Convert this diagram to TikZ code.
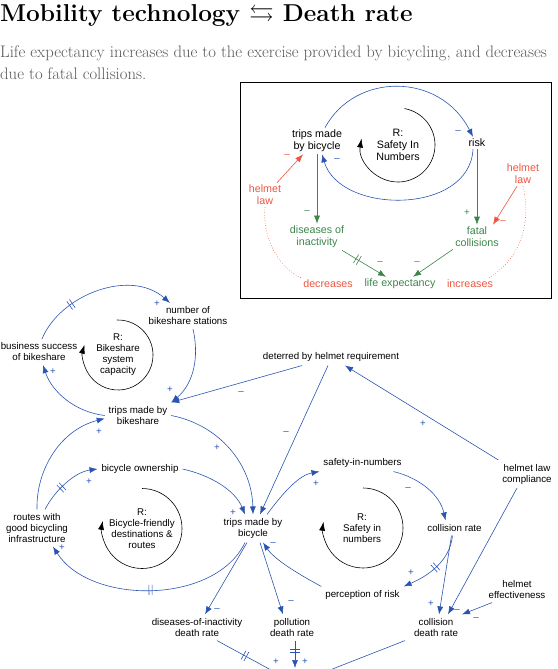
\documentclass[tikz,border=0pt]{standalone}
\usepackage{amssymb}
\usepackage{fontspec}
\newfontfamily\cldfont[Ligatures=TeX]{Liberation Sans}
\usetikzlibrary{arrows.meta, decorations.markings}
\definecolor{cldblue}{RGB}{42,84,178}
\definecolor{cldgreen}{RGB}{60,134,74}
\definecolor{cldred}{RGB}{238,84,64}

\begin{document}
\begin{tikzpicture}[
  x=1pt, y=-1pt,
  var/.style={font=\cldfont\fontsize{9.75}{11}\selectfont, align=center, inner sep=3pt, outer sep=1pt},
  ivar/.style={font=\cldfont\fontsize{10.7}{12.3}\selectfont, align=center, inner sep=2pt},
  sgn/.style={font=\cldfont\fontsize{9.75}{11}\selectfont, inner sep=0pt},
  lnk/.style={cldblue, line width=0.6pt, -{Latex[length=8pt, width=6pt]}},
  loopr/.style={black, line width=0.6pt, -{Latex[length=9pt, width=6pt]}},
  delay/.style={postaction={decorate, decoration={markings, mark=at position #1 with
    {\draw[-, line width=0.6pt] (-1.6pt,-5pt) -- (-1.6pt,5pt) (1.6pt,-5pt) -- (1.6pt,5pt);}}}}
]
\useasboundingbox (0,0) rectangle (557,669);
\node[anchor=base west, inner sep=0pt, font=\fontsize{24.4}{30}\selectfont\bfseries] (title) at (0,22)
  {Mobility technology $\leftrightarrows$ Death rate};
\node[anchor=base west, inner sep=0pt, font=\fontsize{16.7}{22}\selectfont, text=black!65] (sub1) at (0,57)
  {Life expectancy increases due to the exercise provided by bicycling, and decreases};
\node[anchor=base west, inner sep=0pt, font=\fontsize{16.7}{22}\selectfont, text=black!65] (sub2) at (0,79)
  {due to fatal collisions.};

% inset: safety in numbers
\draw[line width=0.8pt] (240,82) rectangle (551,298);
\node[ivar] (itr) at (317,141) {trips made\\by bicycle};
\node[ivar] (isn) at (398,145) {R:\\Safety In\\Numbers};
\node[ivar] (irk) at (477,143) {risk};
\node[ivar, text=cldred] (ihl) at (265,195) {helmet\\law};
\node[ivar, text=cldred] (ihr) at (523,174) {helmet\\law};
\node[ivar, text=cldgreen] (idi) at (317,237) {diseases of\\inactivity};
\node[ivar, text=cldgreen] (ifc) at (477,237) {fatal\\collisions};
\node[ivar, text=cldred] (ide) at (328,284) {decreases};
\node[ivar, text=cldgreen] (ile) at (400,284) {life expectancy};
\node[ivar, text=cldred] (iin) at (470,284) {increases};

\draw[lnk] ([xshift=8pt]itr.north) .. controls (355,72) and (440,72) .. ([xshift=-4pt]irk.north);
\draw[lnk] ([xshift=-4pt]irk.south) .. controls (470,215) and (340,215) .. ([xshift=5pt]itr.south);
\draw[loopr] (isn.center) ++(-80:37) arc[start angle=-80, end angle=190, radius=37];
\draw[lnk, cldgreen] (itr.south) -- (idi.north);
\draw[lnk, cldgreen] (irk.south) -- (ifc.north);
\draw[lnk, cldgreen, delay=0.35] ([xshift=25pt]idi.south) -- ([xshift=-14pt]ile.north);
\draw[lnk, cldgreen] ([xshift=-24pt]ifc.south) -- ([xshift=13pt]ile.north);
\draw[lnk, cldred] ([xshift=12pt]ihl.north) -- ([xshift=-14pt]itr.south);
\draw[lnk, cldred] ([xshift=-6pt]ihr.south) -- ([xshift=16pt]ifc.north);
\draw[cldred, dotted, line width=0.6pt] (ihl.south) .. controls (262,240) and (280,268) .. (ide.north west);
\draw[cldred, dotted, line width=0.6pt] (ihr.south) .. controls (533,230) and (515,262) .. ([xshift=-6pt]iin.north east);
\foreach \n/\x/\y/\sg in {a/458/132/--, b/337/160/--}
  \node[sgn, text=cldblue] (is\n) at (\x,\y) {\sg};
\foreach \n/\x/\y/\sg in {c/307/212/--, d/467/213/+, e/380/263/--, f/417/263/--}
  \node[sgn, text=cldgreen] (is\n) at (\x,\y) {\sg};
\foreach \n/\x/\y/\sg in {g/287/156/--, h/503/222/--}
  \node[sgn, text=cldred] (is\n) at (\x,\y) {\sg};

% main diagram
\node[var] (bss) at (39,352) {business success\\of bikeshare};
\node[var] (nbs) at (188,316) {number of\\bikeshare stations};
\node[var] (rbs) at (118,355) {R:\\Bikeshare\\system\\capacity};
\node[var] (tbs) at (138,415.5) {trips made by\\bikeshare};
\node[var] (dhr) at (331,357) {deterred by helmet requirement};
\node[var] (hlc) at (527,474) {helmet law\\compliance};
\node[var] (own) at (140,469) {bicycle ownership};
\node[var] (rts) at (37,528) {routes with\\good bicycling\\infrastructure};
\node[var] (rbf) at (142,528.5) {R:\\Bicycle-friendly\\destinations \&\\routes};
\node[var] (tbb) at (253,528.5) {trips made by\\bicycle};
\node[var] (sin) at (362.5,463) {safety-in-numbers};
\node[var] (rsn) at (362,528) {R:\\Safety in\\numbers};
\node[var] (clr) at (454.5,528) {collision rate};
\node[var] (per) at (362.5,595) {perception of risk};
\node[var] (eff) at (517,589.5) {helmet\\effectiveness};
\node[var] (cdr) at (436,627.5) {collision\\death rate};
\node[var] (did) at (197,627.5) {diseases-of-inactivity\\death rate};
\node[var] (pdr) at (292,627.5) {pollution\\death rate};
\coordinate (totw) at (282,676);
\coordinate (totn) at (295,668);
\coordinate (tote) at (312,677);

\draw[loopr] (rbs.center) ++(-92:35) arc[start angle=-92, end angle=197, radius=35];
\draw[loopr] (rbf.center) ++(-90:40) arc[start angle=-90, end angle=191, radius=40];
\draw[loopr] ([xshift=1pt]rsn.center) ++(-90:40) arc[start angle=-90, end angle=189, radius=40];

\draw[lnk, delay=0.3] ([xshift=3pt]bss.north) .. controls (60,295) and (130,268) .. ([xshift=-18pt]nbs.north);
\draw[lnk] ([xshift=5pt]nbs.south) .. controls (200,360) and (192,385) .. (tbs.north east);
\draw[lnk] (tbs.west) .. controls (75,412) and (52,392) .. ([xshift=4pt]bss.south);
\draw[lnk] (rts.north) .. controls (36,470) and (60,430) .. ([yshift=-3pt]tbs.west);
\draw[lnk] ([xshift=-29pt]dhr.south) -- (tbs.north east);
\draw[lnk] ([xshift=-3pt]dhr.south) -- ([xshift=7pt]tbb.north);
\draw[lnk] (hlc.north west) -- ([xshift=14pt]dhr.south);
\draw[lnk] ([xshift=-10pt]hlc.south) -- ([xshift=12pt]cdr.north);
\draw[lnk] (tbs.east) .. controls (220,425) and (252,465) .. (tbb.north);
\draw[lnk] (own.east) .. controls (210,475) and (235,490) .. ([xshift=-8pt]tbb.north);
\draw[lnk, delay=0.4] ([xshift=8pt]rts.north) .. controls (55,490) and (75,472) .. (own.west);
\draw[lnk, delay=0.5] ([xshift=-8pt]tbb.south) .. controls (215,605) and (90,605) .. ([xshift=16pt]rts.south);
\draw[lnk] ([xshift=-6pt]tbb.south) -- ([xshift=8pt]did.north);
\draw[lnk] ([xshift=7pt]tbb.south) -- ([xshift=-9pt]pdr.north);
\draw[lnk] ([xshift=14pt]tbb.north) .. controls (285,490) and (300,475) .. (sin.south west);
\draw[lnk] ([xshift=31pt]sin.south) .. controls (420,478) and (440,495) .. ([xshift=-9pt]clr.north);
\draw[lnk, delay=0.5] ([xshift=-2pt]clr.south) .. controls (450,560) and (430,575) .. (per.north east);
\draw[lnk] ([xshift=-3pt]clr.south) -- ([xshift=3pt]cdr.north);
\draw[lnk] (per.north west) .. controls (300,575) and (275,560) .. ([xshift=10pt]tbb.south);
\draw[lnk] ([xshift=-25pt]eff.south) -- (cdr.north east);
\draw[lnk, delay=0.43] ([xshift=20pt]did.south) -- (totw);
\draw[lnk, delay=0.37] ([xshift=3pt]pdr.south) -- (totn);
\draw[lnk] ([xshift=-31pt]cdr.south) -- (tote);

\foreach \n/\x/\y/\sg in {a/157/304/+, b/170/390/+, c/53/372/+, d/99/432/+, e/241/393/--,
    f/286/433/--, g/423/424/+, h/217/448/+, i/233/513/+, j/89/482/+, k/62/548/+,
    l/217/610/--, m/291/602/--, n/316/484/+, o/408/489/--, p/411/573/+, q/431/604/+,
    r/273/544/--, s/457/611/--, t/476/619/--, u/276/662/+, v/305/662/+}
  \node[sgn, text=cldblue] (s\n) at (\x,\y) {\sg};
\end{tikzpicture}
\end{document}
